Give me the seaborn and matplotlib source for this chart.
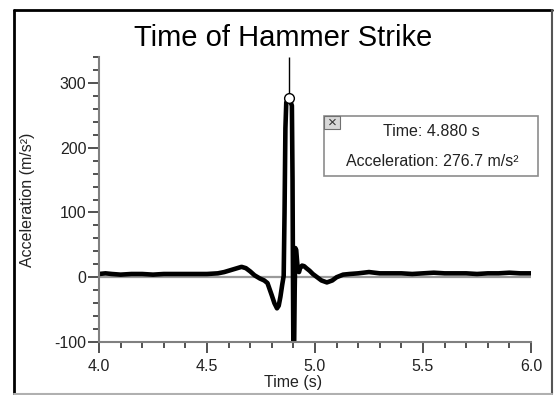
import numpy as np
import pandas as pd
import seaborn as sns
import matplotlib.pyplot as plt
from matplotlib.lines import Line2D
from matplotlib.patches import Rectangle
from matplotlib.ticker import MultipleLocator

sns.set_theme(style='white')
plt.rcParams['font.family'] = ['Liberation Sans', 'DejaVu Sans']
plt.rcParams['axes.unicode_minus'] = False

# Dados
time_s = [4.00, 4.03, 4.06, 4.10, 4.15, 4.20, 4.25, 4.30, 4.35, 4.40, 4.45, 4.50,
          4.55, 4.58, 4.61, 4.64, 4.66, 4.68, 4.70, 4.72, 4.745, 4.765, 4.78, 4.80,
          4.812, 4.824, 4.832, 4.840, 4.848, 4.855, 4.859, 4.863, 4.867, 4.880,
          4.893, 4.896, 4.898, 4.900, 4.903, 4.906, 4.909, 4.913, 4.917, 4.921,
          4.926, 4.931, 4.940, 4.950, 4.960, 4.975, 4.990, 5.010, 5.030, 5.055,
          5.080, 5.100, 5.130, 5.160, 5.20, 5.25, 5.30, 5.35, 5.40, 5.45, 5.50,
          5.55, 5.60, 5.65, 5.70, 5.75, 5.80, 5.85, 5.90, 5.95, 6.00]
accel = [5, 6, 5, 4, 5, 5, 4, 5, 5, 5, 5, 5,
         6, 8, 11, 14, 16, 14, 9, 3, -2, -5, -9, -28,
         -40, -48, -44, -30, -12, 2, 100, 230, 270, 276.7,
         265, 150, 0, -120, -120, -20, 45, 42, 25, 10,
         8, 14, 18, 17, 14, 10, 5, 0, -5, -8,
         -5, 0, 4, 5, 6, 8, 6, 6, 6, 5, 6,
         7, 6, 6, 6, 5, 6, 6, 7, 6, 6]

peak_time = 4.880
peak_accel = 276.7

df = pd.DataFrame({'time': time_s, 'accel': accel})

W, H = 554, 395
fig = plt.figure(figsize=(W / 100, H / 100), dpi=100)
fig.patch.set_facecolor('white')
ax = fig.add_axes([99 / W, 1 - 342 / H, (531 - 99) / W, (342 - 57) / H])

ax.axhline(0, color='#9a9a9a', linewidth=1.6, zorder=1)
sns.lineplot(data=df, x='time', y='accel', color='black', linewidth=3.3,
             estimator=None, ax=ax, zorder=2)

# cursor
ax.vlines(peak_time, peak_accel, 340, color='black', linewidth=1, zorder=3)
ax.plot([peak_time], [peak_accel], marker='o', markersize=7, markerfacecolor='white',
        markeredgecolor='black', markeredgewidth=1, linestyle='none', zorder=4)

ax.set_xlim(4.0, 6.0)
ax.set_ylim(-100, 340)
ax.set_xticks([4.0, 4.5, 5.0, 5.5, 6.0])
ax.set_yticks([-100, 0, 100, 200, 300])
ax.xaxis.set_minor_locator(MultipleLocator(0.1))
ax.yaxis.set_minor_locator(MultipleLocator(20))
ax.set_xticklabels(['4.0', '4.5', '5.0', '5.5', '6.0'])

for s in ['top', 'right']:
    ax.spines[s].set_visible(False)
for s in ['left', 'bottom']:
    ax.spines[s].set_color('#808080')
    ax.spines[s].set_linewidth(1.5)

ax.tick_params(axis='both', which='major', direction='out', length=8, width=1.2,
               color='#333333', labelsize=11.5, labelcolor='#222222', pad=1,
               left=True, bottom=True)
ax.tick_params(axis='x', which='major', pad=4)
ax.tick_params(axis='both', which='minor', direction='out', length=4, width=1.2,
               color='#333333', left=True, bottom=True)
ax.set_xlabel('Time (s)', fontsize=11.5, color='#222222', va='center')
ax.set_ylabel('Acceleration (m/s²)', fontsize=11.5, color='#222222')
ax.xaxis.set_label_coords((293 - 99) / (531 - 99), -(382 - 342) / (342 - 57))
ax.yaxis.set_label_coords((35 - 99) / (531 - 99), 0.5)

fig.text(283 / W, 1 - 38 / H, 'Time of Hammer Strike', ha='center', va='center',
         fontsize=21, color='black')

# caixa de leitura
bx0, by0, bx1, by1 = 324, 116, 538, 176
fig.add_artist(Rectangle((bx0 / W, 1 - by1 / H), (bx1 - bx0) / W, (by1 - by0) / H,
                         transform=fig.transFigure, facecolor='white',
                         edgecolor='#8c8c8c', linewidth=1.2, zorder=5))
fig.add_artist(Rectangle((bx0 / W, 1 - 129 / H), 16 / W, 13 / H,
                         transform=fig.transFigure, facecolor='#d8d8d8',
                         edgecolor='#707070', linewidth=0.8, zorder=6))
fig.text((bx0 + 8) / W, 1 - 122.5 / H, '×', ha='center', va='center', fontsize=11,
         color='#333333', zorder=7)
fig.text(431 / W, 1 - 131 / H, f'Time: {peak_time:.3f} s', ha='center', va='center',
         fontsize=11.5, color='#222222', zorder=7)
fig.text(432 / W, 1 - 162 / H, f'Acceleration: {peak_accel:.1f} m/s²', ha='center',
         va='center', fontsize=11.5, color='#222222', zorder=7)

# moldura
fig.add_artist(Line2D([14 / W, 14 / W], [1 - 10 / H, 1 - 394 / H], color='black', linewidth=2))
fig.add_artist(Line2D([14 / W, 552 / W], [1 - 10 / H, 1 - 10 / H], color='black', linewidth=2))
fig.add_artist(Line2D([552 / W, 552 / W], [1 - 10 / H, 1 - 394 / H], color='#555555', linewidth=1.5))
fig.add_artist(Line2D([14 / W, 552 / W], [1 - 394 / H, 1 - 394 / H], color='#b0b0b0', linewidth=1.5))

fig.savefig('out.png', dpi=100)
